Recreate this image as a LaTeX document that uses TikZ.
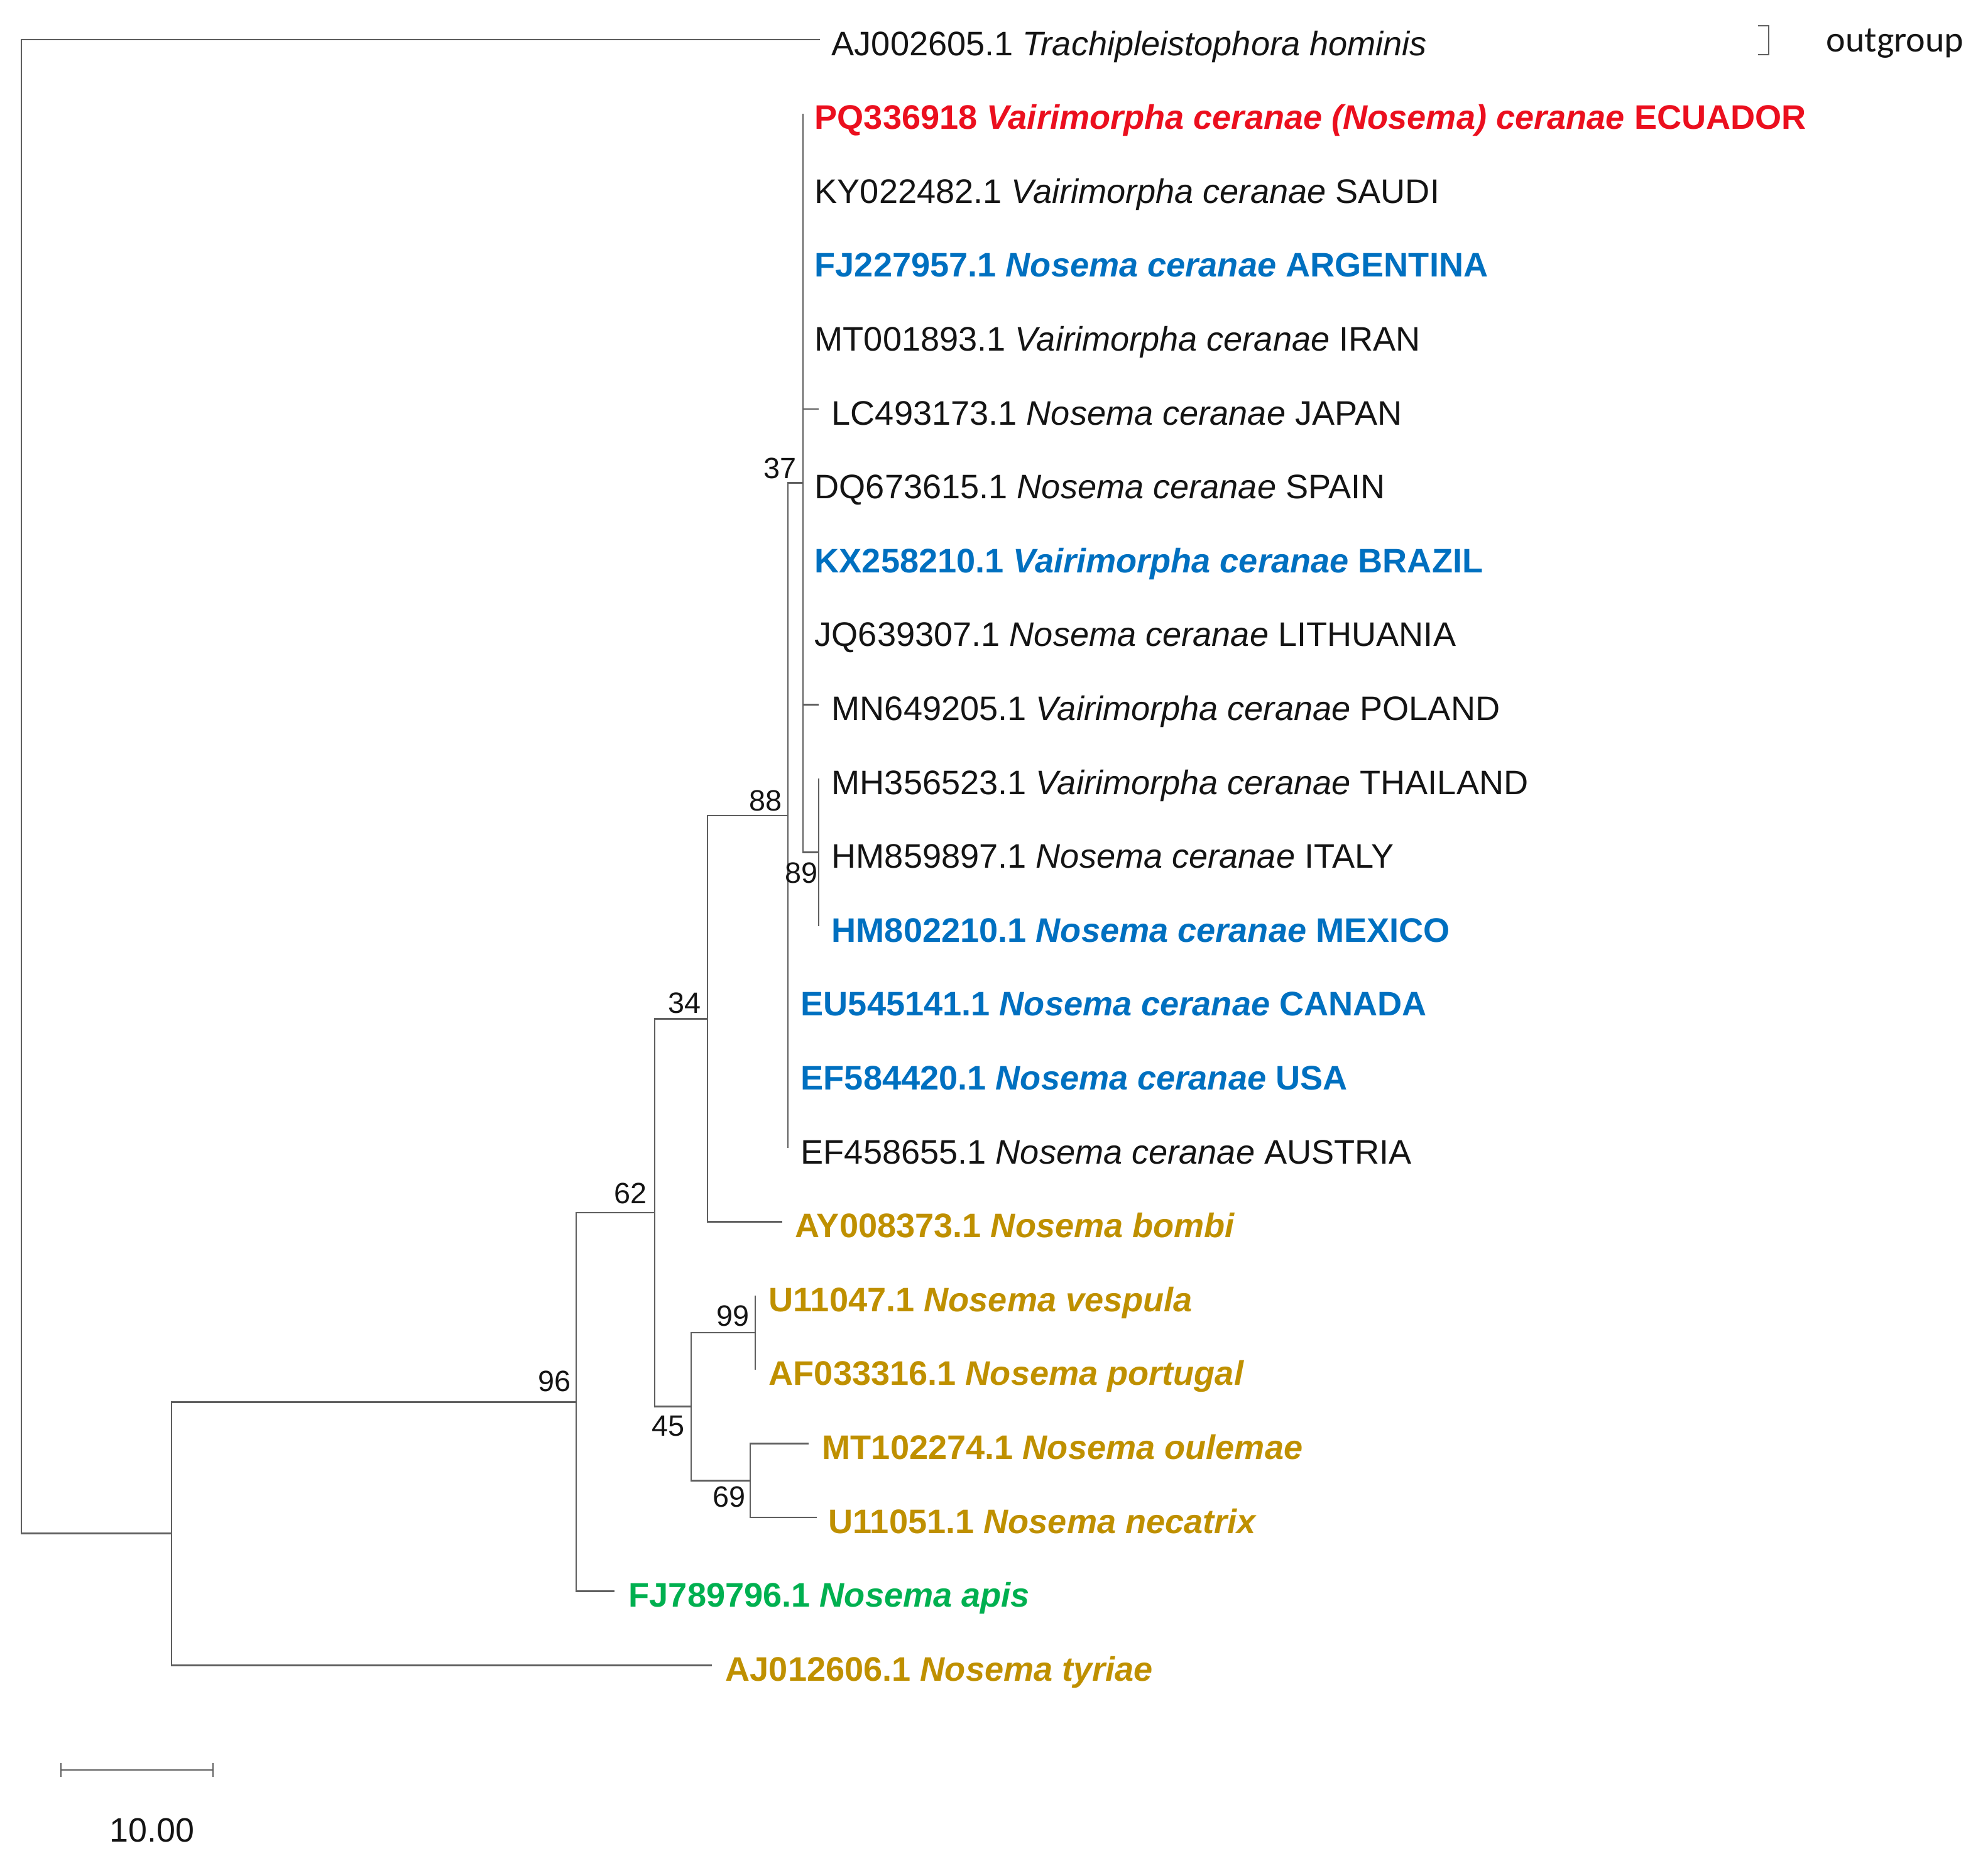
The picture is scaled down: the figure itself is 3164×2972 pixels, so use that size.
\documentclass[tikz,border=0pt]{standalone}
\usepackage{fontspec}
\setmainfont{Liberation Sans}
\newfontfamily\ogfont{Carlito}
\definecolor{brcol}{RGB}{95,95,95}
\definecolor{cred}{RGB}{235,15,30}
\definecolor{cblue}{RGB}{0,112,192}
\definecolor{cgold}{RGB}{191,144,0}
\definecolor{cgreen}{RGB}{0,176,80}
\definecolor{ctext}{RGB}{20,20,20}
\begin{document}
\begin{tikzpicture}[x=0.01cm,y=-0.01cm,
  branch/.style={draw=brcol, line width=0.75pt},
  leaf/.style={anchor=base west, inner sep=0pt, text=ctext, font=\fontsize{15.4}{18}\selectfont},
  hileaf/.style={anchor=base west, inner sep=0pt, font=\fontsize{15.4}{18}\selectfont\bfseries},
  boot/.style={inner sep=0pt, text=ctext, font=\fontsize{13.3}{15}\selectfont},
]
\useasboundingbox (0,0) rectangle (3164,2972);

% internal nodes
\coordinate (root) at (34,1251.9);
\coordinate (nI)  at (273,2440.7);
\coordinate (n96) at (917,2231.3);
\coordinate (n62) at (1042,1929.9);
\coordinate (n34) at (1126,1621.2);
\coordinate (n88) at (1254,1297.8);
\coordinate (n37) at (1278,768.6);
\coordinate (n89) at (1303,1356.6);
\coordinate (n45) at (1100,2238.6);
\coordinate (n99) at (1202,2121);
\coordinate (n69) at (1194,2356.2);

% tips
\coordinate (t0)  at (1305,63);
\coordinate (t1)  at (1278,180.6);
\coordinate (t2)  at (1278,298.2);
\coordinate (t3)  at (1278,415.8);
\coordinate (t4)  at (1278,533.4);
\coordinate (t5)  at (1303,651);
\coordinate (t6)  at (1278,768.6);
\coordinate (t7)  at (1278,886.2);
\coordinate (t8)  at (1278,1003.8);
\coordinate (t9)  at (1303,1121.4);
\coordinate (t10) at (1303,1239);
\coordinate (t11) at (1303,1356.6);
\coordinate (t12) at (1303,1474.2);
\coordinate (t13) at (1254,1591.8);
\coordinate (t14) at (1254,1709.4);
\coordinate (t15) at (1254,1827);
\coordinate (t16) at (1245,1944.6);
\coordinate (t17) at (1202,2062.2);
\coordinate (t18) at (1202,2179.8);
\coordinate (t19) at (1287,2297.4);
\coordinate (t20) at (1300,2415);
\coordinate (t21) at (978,2532.6);
\coordinate (t22) at (1133,2650.2);

% branches
\draw[branch] (root) |- (t0);
\draw[branch] (root) |- (nI);
\draw[branch] (nI) |- (n96);
\draw[branch] (nI) |- (t22);
\draw[branch] (n96) |- (n62);
\draw[branch] (n96) |- (t21);
\draw[branch] (n62) |- (n34);
\draw[branch] (n62) |- (n45);
\draw[branch] (n34) |- (n88);
\draw[branch] (n34) |- (t16);
\draw[branch] (n88) |- (n37);
\draw[branch] (n88) |- (t13);
\draw[branch] (n88) |- (t14);
\draw[branch] (n88) |- (t15);
\foreach \t in {t1,t2,t3,t4,t5,t6,t7,t8,t9} \draw[branch] (n37) |- (\t);
\draw[branch] (n37) |- (n89);
\draw[branch] (n89) |- (t10);
\draw[branch] (n89) |- (t11);
\draw[branch] (n89) |- (t12);
\draw[branch] (n45) |- (n99);
\draw[branch] (n45) |- (n69);
\draw[branch] (n99) |- (t17);
\draw[branch] (n99) |- (t18);
\draw[branch] (n69) |- (t19);
\draw[branch] (n69) |- (t20);

% leaf labels
\node[leaf] (l0) at (1323,88) {AJ002605.1 \textit{Trachipleistophora hominis}};
\node[hileaf, text=cred] (l1) at (1296,205.6) {PQ336918 \textit{Vairimorpha ceranae (Nosema) ceranae} ECUADOR};
\node[leaf] (l2) at (1296,323.2) {KY022482.1 \textit{Vairimorpha ceranae} SAUDI};
\node[hileaf, text=cblue] (l3) at (1296,440.8) {FJ227957.1 \textit{Nosema ceranae} ARGENTINA};
\node[leaf] (l4) at (1296,558.4) {MT001893.1 \textit{Vairimorpha ceranae} IRAN};
\node[leaf] (l5) at (1323,676) {LC493173.1 \textit{Nosema ceranae} JAPAN};
\node[leaf] (l6) at (1296,793.6) {DQ673615.1 \textit{Nosema ceranae} SPAIN};
\node[hileaf, text=cblue] (l7) at (1296,911.2) {KX258210.1 \textit{Vairimorpha ceranae} BRAZIL};
\node[leaf] (l8) at (1296,1028.8) {JQ639307.1 \textit{Nosema ceranae} LITHUANIA};
\node[leaf] (l9) at (1323,1146.4) {MN649205.1 \textit{Vairimorpha ceranae} POLAND};
\node[leaf] (l10) at (1323,1264) {MH356523.1 \textit{Vairimorpha ceranae} THAILAND};
\node[leaf] (l11) at (1323,1381.6) {HM859897.1 \textit{Nosema ceranae} ITALY};
\node[hileaf, text=cblue] (l12) at (1323,1499.2) {HM802210.1 \textit{Nosema ceranae} MEXICO};
\node[hileaf, text=cblue] (l13) at (1274,1616.8) {EU545141.1 \textit{Nosema ceranae} CANADA};
\node[hileaf, text=cblue] (l14) at (1274,1734.4) {EF584420.1 \textit{Nosema ceranae} USA};
\node[leaf] (l15) at (1274,1852) {EF458655.1 \textit{Nosema ceranae} AUSTRIA};
\node[hileaf, text=cgold] (l16) at (1265,1969.6) {AY008373.1 \textit{Nosema bombi}};
\node[hileaf, text=cgold] (l17) at (1223,2087.2) {U11047.1 \textit{Nosema vespula}};
\node[hileaf, text=cgold] (l18) at (1223,2204.8) {AF033316.1 \textit{Nosema portugal}};
\node[hileaf, text=cgold] (l19) at (1308,2322.4) {MT102274.1 \textit{Nosema oulemae}};
\node[hileaf, text=cgold] (l20) at (1318,2440) {U11051.1 \textit{Nosema necatrix}};
\node[hileaf, text=cgreen] (l21) at (1000,2557.6) {FJ789796.1 \textit{Nosema apis}};
\node[hileaf, text=cgold] (l22) at (1154,2675.2) {AJ012606.1 \textit{Nosema tyriae}};

% bootstrap values
\node[boot, anchor=south east] (b96) at (909,2216) {96};
\node[boot, anchor=south east] (b62) at (1030,1917) {62};
\node[boot, anchor=south east] (b34) at (1116,1614) {34};
\node[boot, anchor=south east] (b88) at (1245,1292) {88};
\node[boot, anchor=south east] (b37) at (1268,763) {37};
\node[boot, anchor=south east] (b99) at (1193,2112) {99};
\node[boot, anchor=north east] (b45) at (1090,2253) {45};
\node[boot, anchor=north east] (b69) at (1187,2365) {69};
\node[boot, anchor=north east] (b89) at (1302,1372) {89};

% outgroup bracket and caption
\draw[draw=brcol, line width=0.6pt] (2798,41) -- (2815,41) -- (2815,87) -- (2798,87);
\node[anchor=base west, inner sep=0pt, text=ctext, font=\ogfont\fontsize{16.5}{19}\selectfont] (og) at (2906,82) {outgroup};

% scale bar
\coordinate (sbL) at (97,2817);
\coordinate (sbR) at (339,2817);
\draw[draw=brcol, line width=0.75pt] (sbL) -- (sbR);
\draw[draw=brcol, line width=0.75pt] ([yshift=-3.1pt]sbL) -- ([yshift=3.1pt]sbL);
\draw[draw=brcol, line width=0.75pt] ([yshift=-3.1pt]sbR) -- ([yshift=3.1pt]sbR);
\node[inner sep=0pt, text=ctext, font=\fontsize{15.3}{18}\selectfont] (sbt) at (242,2913) {10.00};
\end{tikzpicture}
\end{document}
